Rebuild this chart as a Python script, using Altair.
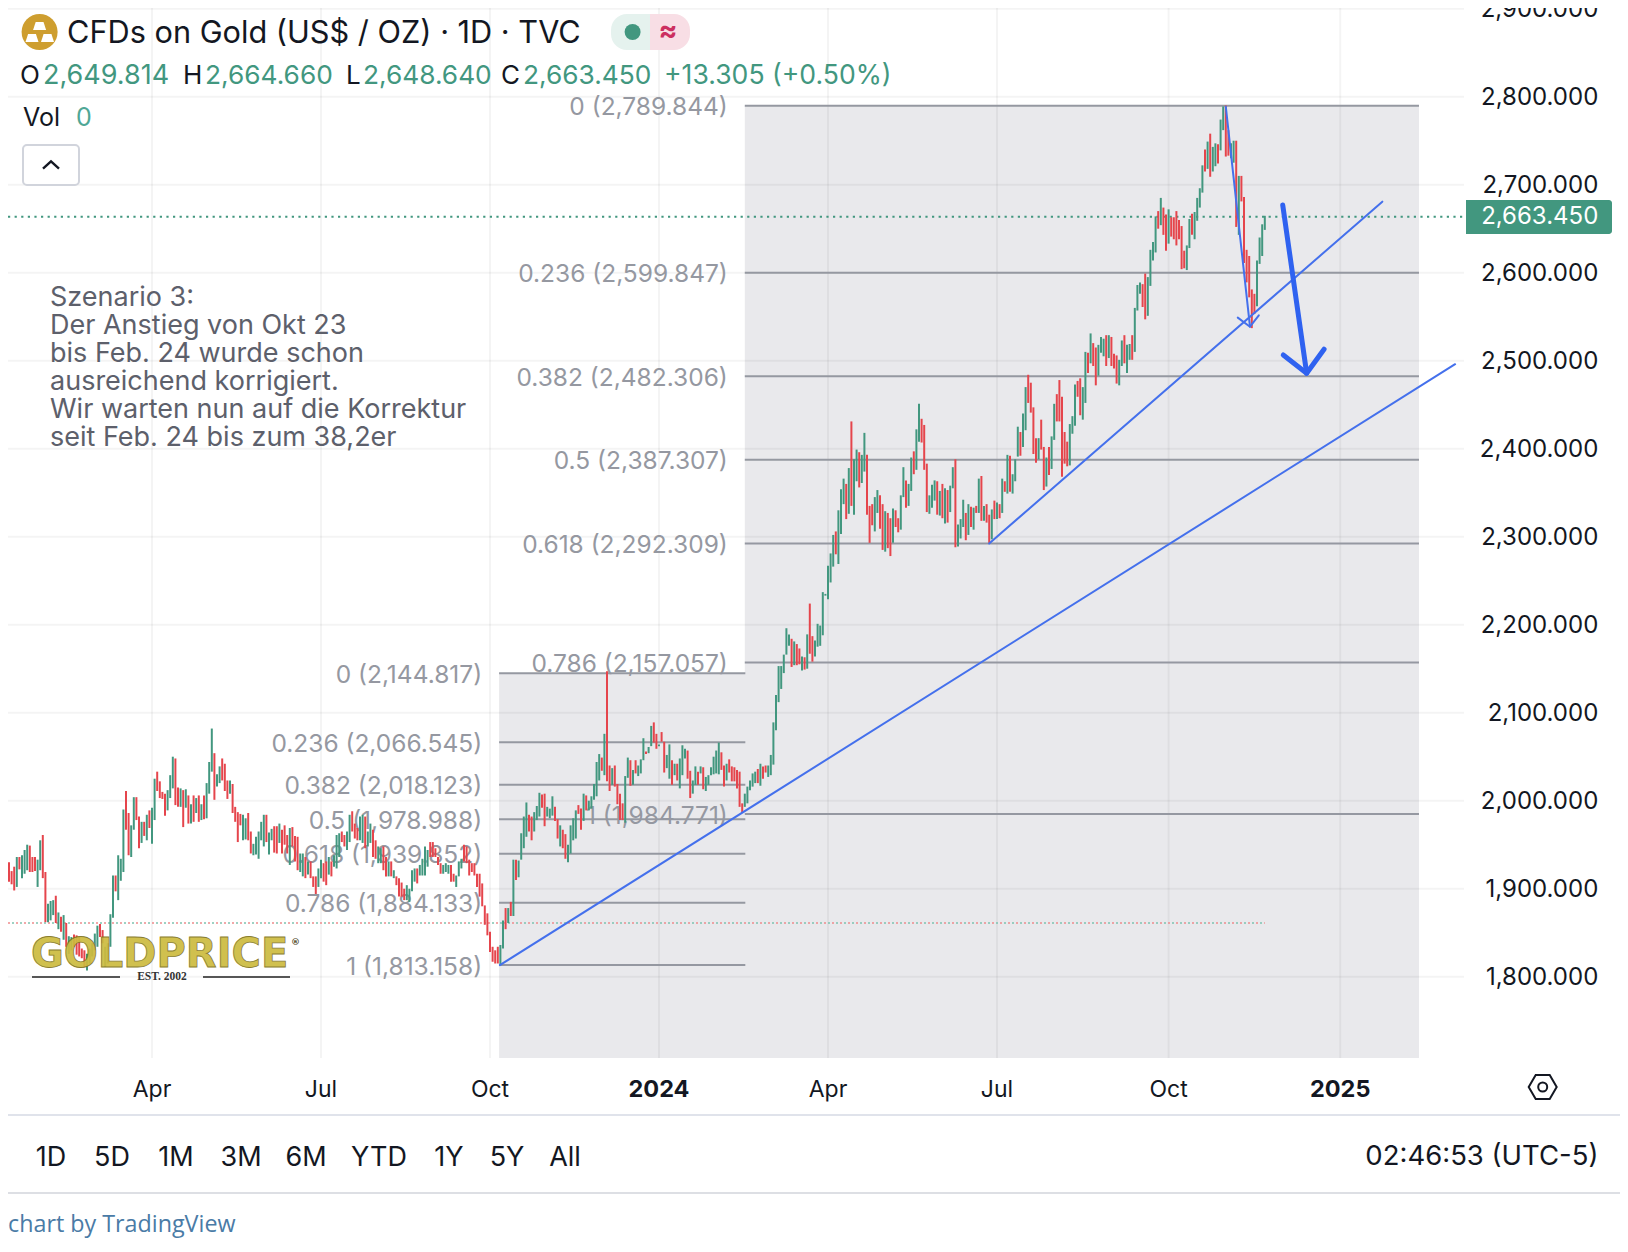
import altair as alt
import pandas as pd

W, H = 1612, 1230
PX_PER_BAR = 2.6
X_DOMAIN = [-144 / PX_PER_BAR, (W - 144) / PX_PER_BAR]
Y_DOMAIN = [2800 - (H - 88.7) / 0.88, 2800 + 88.7 / 0.88]
CHART_BOTTOM = 1707.6

# Daily bars. The first is at index -55, April 2023 is index 0.
HIGH_A = [1930,1920,1925,1936,1936,1938,1944,1950,1949,1936,1936,1933,1955,1961,1919,1883,1886,1887,1892,1873,
          1868,1870,1861,1846,1845,1848,1847,1845,1832,1830,1826,1832,1838,1849,1858,1860,1853,1834,1838,1871,
          1915,1915,1938,1934,1990,2011,1986,1972,2004,2004,1982,1976,1976,1984,1989,1992]
LOW_A = [1908,1905,1898,1902,1922,1912,1917,1921,1919,1919,1920,1902,1921,1912,1862,1862,1864,1870,1861,1854,
         1851,1842,1834,1826,1830,1834,1825,1823,1821,1811,1807,1815,1823,1830,1834,1845,1838,1811,1815,1834,
         1867,1897,1887,1909,1919,1967,1938,1936,1967,1978,1946,1952,1960,1955,1969,1951]
DIR_A = "rrrgrgggrr" "rggrrgggrg" "rgrggrrrrr" "gggggrrggg" "grgggrrggr" "rgrgrg"

HIGH_B = [2025,2033,2022,2010,2008,2012,2029,2050,2048,2015,2014,2012,2013,2006,1996,2006,2003,2006,1996,2006,
          2020,2044,2082,2054,2030,2039,2048,2042,2023,2023,2019,1993,1987,1985,1984,1980,1986,1965,1951,1959,
          1965,1976,1984,1984,1964,1968,1971,1971,1974,1967,1972,1961,1969,1970,1960,1959,1940,1940,1936]
LOW_B = [1978,2011,2003,2002,1983,1989,2003,2014,1995,1993,1993,1970,1992,1974,1974,1976,1986,1976,1978,1979,
         1980,2008,2033,2001,2016,2020,2023,2011,2002,2008,1986,1976,1953,1972,1955,1956,1955,1940,1938,1939,
         1934,1955,1948,1953,1939,1955,1941,1940,1952,1940,1950,1940,1927,1948,1931,1921,1919,1914,1912]
DIR_B = "grrrrgggrr" "grgrgrgrgr" "gggrggrrrg" "rrrrggrrgg" "gggrggrrgr" "rrgrrrggr"

HIGH_C = [1931,1931,1914,1914,1923,1933,1929,1931,1936,1931,1938,1961,1963,1965,1961,1965,1984,1988,1974,1969,
          1982,1984,1982,1965,1974,1967,1955,1948,1946,1948,1936,1931,1931,1921,1914,1912,1907,1900,1904,1900,
          1921,1923,1923,1927,1934,1948,1944,1953,1953,1946,1936,1929,1927,1929,1927,1927,1917,1915,1931,1934,
          1950,1948,1933,1929,1929,1917,1917,1906,1881,1872,1851,1834,1830,1834,1836]
LOW_C = [1916,1912,1902,1894,1902,1912,1908,1904,1916,1914,1925,1923,1936,1953,1948,1944,1953,1965,1957,1955,
         1955,1952,1946,1948,1952,1936,1934,1929,1929,1921,1914,1914,1914,1912,1904,1891,1891,1887,1887,1885,
         1897,1908,1906,1915,1915,1915,1925,1936,1936,1936,1927,1917,1917,1919,1917,1908,1908,1902,1914,1923,
         1931,1929,1915,1919,1915,1902,1891,1880,1859,1847,1828,1817,1815,1815,1813]
DIR_C = "grrrggrrgr" "gggrrggrrr" "ggrggrrggr" "rgrgrrrrgg" "ggrggggrrr" "rrgggrrggg" "rrrrrrrrrr" "rrrrg"

HIGH_D = [1864,1878,1878,1885,1933,1933,1932,1963,1982,1998,1984,1982,1987,1994,2009,2007,2008,1993,1991,2005,
          1993,1979,1972,1967,1962,1950,1972,1980,1989,1995,1991,2008,2006,2000,2005,2019,2044,2053,2049,2076,
          2147,2040,2037,2040,2019,2008,1997,2028,2049,2046,2035,2046,2040,2047,2071,2056,2061,2085,2089,2076,
          2064,2078,2067,2052,2064,2046,2042,2042,2048,2063,2059,2057,2034,2023,2039,2033,2039,2038,2027,2029,
          2038,2050,2057,2066,2055,2040,2042,2047,2039,2038,2035,2033,1997,2008,2016,2023,2031,2033,2036,2042,
          2039,2040,2040,2052,2089,2120,2153,2153,2166]
LOW_D = [1832,1854,1861,1869,1869,1910,1913,1933,1946,1959,1965,1955,1965,1978,1982,1992,1971,1982,1980,1983,
         1977,1957,1948,1946,1934,1930,1940,1955,1957,1985,1967,1977,1989,1989,1991,2001,2005,2023,2034,2029,
         2022,2011,2018,2016,1996,1978,1978,1975,2026,2017,2018,2031,2028,2031,2046,2053,2054,2062,2066,2059,
         2062,2067,2032,2037,2025,2018,2029,2023,2014,2029,2048,2025,2003,2008,2018,2018,2031,2013,2011,2018,
         2029,2030,2031,2030,2035,2016,2023,2032,2022,2022,2014,1993,1986,1993,1997,2012,2016,2020,2020,2017,
         2025,2032,2027,2029,2041,2080,2112,2127,2145]
DIR_D = "grgrg" "rgggg" "rrggg" "rrggg" "rrgrr" "ggggr" "rgrgg" "gggrg" "rrgrr" "rrggr" "grggg" "rggrr" \
        "grrgg" "rgrgg" "grrgg" "rgrgg" "ggggr" "rgrrr" "rrrgg" "gggrg" "rrggg" "gggg"

HIGH_E = [2196,2189,2184,2181,2178,2173,2164,2163,2189,2224,2187,2182,2201,2199,2237,2235,2267,2281,2302,2306,
          2330,2354,2366,2360,2378,2431,2388,2399,2396,2393,2418,2393,2335,2337,2345,2353,2347,2337,2329,2327,
          2321,2332,2330,2321,2347,2379,2364,2360,2390,2397,2422,2451,2434,2427,2383,2347,2359,2364,2363,2352,
          2360,2355,2353,2358,2379,2388,2314,2320,2342,2327,2337,2334,2333,2335,2366,2369,2335,2337,2325,2331,
          2341,2339,2337,2366,2363,2393,2392,2371,2388,2425]
LOW_E = [2166,2176,2152,2154,2154,2155,2148,2149,2150,2167,2158,2164,2175,2176,2188,2233,2229,2248,2266,2280,
         2269,2303,2337,2320,2326,2335,2325,2363,2356,2361,2374,2325,2293,2313,2306,2327,2309,2285,2283,2287,
         2278,2293,2311,2305,2308,2345,2333,2335,2352,2371,2376,2408,2407,2376,2328,2326,2333,2341,2325,2324,
         2321,2315,2316,2328,2355,2288,2289,2298,2311,2296,2302,2311,2308,2327,2327,2318,2318,2316,2293,2297,
         2320,2320,2321,2327,2351,2349,2351,2349,2363,2391]
DIR_E = "ggrgrrgrgr" "rggggggggr" "gggrgrggrg" "grrrggrrgr" "rgrrggrggr" "ggrrrgggrg" "rgrggrgggr" \
        "grgrgrgrrg" "rgrgrgrggg"

HIGH_F = [2419,2440,2470,2484,2475,2447,2412,2412,2433,2402,2390,2402,2414,2451,2462,2478,2459,2419,2408,2428,
          2437,2473,2477,2480,2470,2510,2509,2531,2520,2515,2518,2527,2525,2529,2529,2527,2508,2506,2501,2523,
          2529,2518,2519,2529,2560,2586,2589,2587,2599,2595,2626,2635,2664,2670,2685,2674,2666,2672,2663,2663,
          2670,2660,2653,2625,2631,2661,2667,2669,2685,2696,2722,2740,2749,2758,2743,2747,2746,2774,2789,2790,
          2762,2747,2750,2750,2710,2710,2686,2626,2619,2581,2576,2614,2640,2655,2664.66]
LOW_F = [2392,2402,2421,2452,2441,2394,2384,2388,2399,2353,2357,2370,2377,2410,2431,2431,2368,2383,2380,2381,
         2417,2426,2459,2438,2433,2452,2486,2497,2494,2472,2483,2509,2505,2494,2503,2494,2491,2474,2472,2494,
         2497,2486,2501,2501,2510,2557,2576,2561,2547,2551,2585,2614,2623,2650,2654,2643,2625,2633,2641,2638,
         2631,2638,2604,2605,2603,2628,2643,2638,2659,2674,2691,2715,2718,2709,2715,2721,2724,2739,2762,2732,
         2733,2730,2725,2652,2643,2681,2611,2589,2572,2537,2553,2562,2610,2619,2648.64]
DIR_F = "rggrrrrgrr" "grggrrrrrg" "ggrrggrgrr" "gggrgrrrgg" "rggrgggrrg" "gggrgrrgrr" "rrrrggrggg" \
        "grgrggrggr" "rggrgrrrrr" "rgggg"

HIGHS = HIGH_A + HIGH_B + HIGH_C + HIGH_D + HIGH_E + HIGH_F
LOWS = LOW_A + LOW_B + LOW_C + LOW_D + LOW_E + LOW_F
DIRS = DIR_A + DIR_B + DIR_C + DIR_D + DIR_E + DIR_F
bars = pd.DataFrame({"i": range(-55, -55 + len(HIGHS)), "high": HIGHS, "low": LOWS, "dir": list(DIRS)})

PRICE_TICKS = [1800, 1900, 2000, 2100, 2200, 2300, 2400, 2500, 2600, 2700, 2800, 2900]
TIME_TICKS = [0, 65, 130, 195, 260, 325, 391, 457]
TIME_LABELS = ["Apr", "Jul", "Oct", "2024", "Apr", "Jul", "Oct", "2025"]
TIME_BOLD = [False, False, False, True, False, False, False, True]

FIB_RATIOS = ["0", "0.236", "0.382", "0.5", "0.618", "0.786", "1"]
FIB_A_PRICES = [2144.817, 2066.545, 2018.123, 1978.988, 1939.852, 1884.133, 1813.158]
FIB_B_PRICES = [2789.844, 2599.847, 2482.306, 2387.307, 2292.309, 2157.057, 1984.771]
FIB_A_SPAN = [133.5, 228.2]
FIB_B_SPAN = [228.0, 487.3]

LAST_PRICE = 2663.45
LOW_MARKER = 1861.1
LOW_MARKER_END = 428.0

TREND_A = ([133.8, 501.2], [1813.2, 2496.0])
TREND_B = ([322.0, 473.2], [2292.3, 2680.7])
THIN_SHAFT = ([413.0, 422.3], [2788.6, 2538.6])
THIN_HEAD = ([417.6, 422.3, 425.7], [2548.9, 2538.6, 2551.6])
THICK_SHAFT = ([434.9, 444.1], [2676.9, 2485.7])
THICK_HEAD = ([435.1, 444.1, 450.8], [2506.5, 2485.7, 2513.0])

NOTE_LINES = ["Szenario 3:", "Der Anstieg von Okt 23", "bis Feb. 24 wurde schon", "ausreichend korrigiert.",
              "Wir warten nun auf die Korrektur", "seit Feb. 24 bis zum 38,2er"]
RANGE_LABELS = ["1D", "5D", "1M", "3M", "6M", "YTD", "1Y", "5Y", "All"]
RANGE_X = [51, 112, 176, 241, 306, 379, 449, 507, 565]

INK = "#131722"
GREEN = "#42977F"
RED = "#E5454C"
FIB = "#9598A1"
BLUE = "#4470EC"
BOX = "#E9E9EC"
RULE = "#E0E3EB"

sx = alt.Scale(domain=X_DOMAIN, nice=False, zero=False)
sy = alt.Scale(domain=Y_DOMAIN, nice=False, zero=False)
X = lambda f: alt.X(f, type="quantitative", scale=sx, axis=None)
Y = lambda f: alt.Y(f, type="quantitative", scale=sy, axis=None)
ONE = pd.DataFrame({"k": [0]})


def page_x(v):
    return alt.value(v - 8)


def page_y(v):
    return alt.value(v - 8)


def label(text, x, y, size, color=INK, align="left", weight=400, font="Inter", **kw):
    return alt.Chart(ONE).mark_text(align=align, baseline="middle", dy=2, fontSize=size, font=font,
                                    fontWeight=weight, color=color, **kw).encode(
        x=page_x(x), y=page_y(y), text=alt.value(text))


def box(x0, x1, y0, y1, **kw):
    return alt.Chart(ONE).mark_rect(**kw).encode(x=page_x(x0), x2=page_x(x1), y=page_y(y0), y2=page_y(y1))


def hline(x0, x1, y, color=RULE, width=2):
    return alt.Chart(ONE).mark_rule(color=color, strokeWidth=width).encode(x=page_x(x0), x2=page_x(x1), y=page_y(y))


def glyph(x, y, path, size, **kw):
    return alt.Chart(ONE).mark_point(shape=path, size=size, **kw).encode(x=page_x(x), y=page_y(y))


def poly(series, color, width):
    df = pd.DataFrame({"i": series[0], "p": series[1], "k": range(len(series[0]))})
    return alt.Chart(df).mark_line(color=color, strokeWidth=width, strokeCap="round", strokeJoin="round").encode(
        x=X("i"), y=Y("p"), order=alt.Order("k:Q"))


def fib_table(prices, span):
    return pd.DataFrame({
        "p": prices, "a": span[0], "b": span[1], "bottom": CHART_BOTTOM,
        "t": [f"{r} ({p:,.3f})" for r, p in zip(FIB_RATIOS, prices)],
    })


fib_a, fib_b = fib_table(FIB_A_PRICES, FIB_A_SPAN), fib_table(FIB_B_PRICES, FIB_B_SPAN)


def fib_box(df):
    return alt.Chart(df.iloc[[0]]).mark_rect(color=BOX).encode(x=X("a"), x2="b", y=Y("p"), y2="bottom")


def fib_lines(df):
    return alt.Chart(df).mark_rule(color=FIB, strokeWidth=2).encode(x=X("a"), x2="b", y=Y("p"))


def fib_labels(df):
    return alt.Chart(df).mark_text(align="right", baseline="middle", dx=-17, dy=2.4, fontSize=24.5, font="Inter",
                                   color=FIB).encode(x=X("a"), y=Y("p"), text="t:N")


grid_h = alt.Chart(pd.DataFrame({"p": PRICE_TICKS})).mark_rule(color="#000000", opacity=0.045, strokeWidth=2).encode(
    y=Y("p"), x=alt.value(0), x2=alt.value(1456))
grid_v = alt.Chart(pd.DataFrame({"i": TIME_TICKS})).mark_rule(color="#000000", opacity=0.045, strokeWidth=2).encode(
    x=X("i"), y=alt.value(0), y2=alt.value(1050))

bar_layer = alt.Chart(bars).mark_rule(strokeWidth=2).encode(
    x=X("i"), y=Y("high"), y2="low:Q",
    color=alt.Color("dir:N", scale=alt.Scale(domain=["g", "r"], range=[GREEN, RED]), legend=None),
)

price_axis = alt.Chart(pd.DataFrame({"p": PRICE_TICKS, "t": [f"{p:,.3f}" for p in PRICE_TICKS]})).mark_text(
    align="right", baseline="middle", dy=0.8, fontSize=24, font="Inter", color=INK
).encode(x=page_x(1598.3), y=Y("p"), text="t:N")

time_table = pd.DataFrame({"i": TIME_TICKS, "t": TIME_LABELS, "b": TIME_BOLD})
time_axis = alt.Chart(time_table[~time_table.b]).mark_text(
    align="center", baseline="middle", fontSize=23, font="Inter", color=INK
).encode(x=X("i"), y=page_y(1090), text="t:N")
time_axis_bold = alt.Chart(time_table[time_table.b]).mark_text(
    align="center", baseline="middle", fontSize=23.5, font="Inter", fontWeight=700, color=INK
).encode(x=X("i"), y=page_y(1090), text="t:N")

layers = [
    fib_box(fib_a), fib_box(fib_b), grid_h, grid_v,
    alt.Chart(pd.DataFrame({"p": [LOW_MARKER], "a": [X_DOMAIN[0]], "b": [LOW_MARKER_END]})).mark_rule(
        color="#EF8A8C", strokeWidth=1.5, strokeDash=[2, 6]).encode(x=X("a"), x2="b", y=Y("p")),
    alt.Chart(pd.DataFrame({"p": [LOW_MARKER], "a": [X_DOMAIN[0]], "b": [LOW_MARKER_END]})).mark_rule(
        color="#7CC4B1", strokeWidth=1.5, strokeDash=[2, 6], strokeDashOffset=4).encode(x=X("a"), x2="b", y=Y("p")),
    fib_lines(fib_a), fib_lines(fib_b), fib_labels(fib_a), fib_labels(fib_b),
    alt.Chart(pd.DataFrame({"p": [LAST_PRICE], "a": [X_DOMAIN[0]], "b": [505.4]})).mark_rule(
        color=GREEN, strokeWidth=2, strokeDash=[2.2, 4.4]).encode(x=X("a"), x2="b", y=Y("p")),
    bar_layer,
    poly(TREND_A, BLUE, 2), poly(TREND_B, BLUE, 2), poly(THIN_SHAFT, BLUE, 2), poly(THIN_HEAD, BLUE, 2),
    poly(THICK_SHAFT, "#2F62F0", 5), poly(THICK_HEAD, "#2F62F0", 5),
    price_axis, time_axis, time_axis_bold,
    # price tag
    box(1466, 1612, 200, 234, color=GREEN, cornerRadiusTopRight=3, cornerRadiusBottomRight=3),
    label(f"{LAST_PRICE:,.3f}", 1598.3, 215, 24, color="#FFFFFF", align="right"),
    # symbol header
    glyph(39.6, 32, "circle", 1296, filled=True, color="#CE9E2F", opacity=1),
    glyph(39.6, 26, "M-1,.6L-.6,-.6L.6,-.6L1,.6Z", 170, filled=True, color="#FFFFFF", opacity=1),
    glyph(32, 38, "M-1,.6L-.6,-.6L.6,-.6L1,.6Z", 170, filled=True, color="#FFFFFF", opacity=1),
    glyph(47.5, 38, "M-1,.6L-.6,-.6L.6,-.6L1,.6Z", 170, filled=True, color="#FFFFFF", opacity=1),
    label("CFDs on Gold (US$ / OZ) · 1D · TVC", 67, 32, 30.7),
    box(611, 650, 14, 50, color="#E5F2EE", cornerRadiusTopLeft=16, cornerRadiusBottomLeft=16),
    box(650, 690, 14, 50, color="#F8DEE5", cornerRadiusTopRight=16, cornerRadiusBottomRight=16),
    glyph(632.6, 32, "circle", 256, filled=True, color=GREEN, opacity=1),
    label("≈", 668, 30, 28, color="#CC2F60", align="center", weight=700),
    label("O", 20, 74, 26), label("2,649.814", 43, 74, 27, color=GREEN),
    label("H", 183, 74, 26), label("2,664.660", 205, 74, 26.3, color=GREEN),
    label("L", 346, 74, 26), label("2,648.640", 363, 74, 26.3, color=GREEN),
    label("C", 501, 74, 26), label("2,663.450", 523, 74, 26.3, color=GREEN),
    label("+13.305 (+0.50%)", 664, 74, 26.6, color=GREEN),
    label("Vol", 23, 116, 25), label("0", 76, 116, 25, color="#4FA796"),
    box(23, 79, 145, 185, fill="#FFFFFF", stroke="#D1D4DC", strokeWidth=2, cornerRadius=4),
    glyph(51, 165, "M-1,.45L0,-.45L1,.45", 256, filled=False, color=INK, strokeWidth=2.4, opacity=1),
    # logo
    label("GOLDPRICE", 31, 953, 40, color="#CDBB3F", weight=700, font="DejaVu Sans", stroke="#7F7320",
          strokeWidth=0.8, opacity=0.92),
    label("®", 291, 940, 9, color="#4A4420", align="left", weight=700, font="DejaVu Sans"),
    hline(32, 120, 977, color="#222222", width=1.5), hline(203, 290, 977, color="#222222", width=1.5),
    label("EST. 2002", 162, 975, 11.5, color="#333333", align="center", weight=700, font="Liberation Serif"),
    # frame
    hline(8, 1620, 1115), hline(8, 1620, 1193, color="#DDDFE4"),
    glyph(1542.7, 1087, "M-1,0L-.5,-.86L.5,-.86L1,0L.5,.86L-.5,.86Z", 784, filled=False, color=INK, strokeWidth=2, opacity=1),
    glyph(1542.7, 1087, "circle", 81, filled=False, color=INK, strokeWidth=2, opacity=1),
    label("02:46:53 (UTC-5)", 1598.5, 1155, 27.5, align="right"),
    label("chart by TradingView", 8, 1223, 23.3, color="#4A7BA6", font="Open Sans"),
]
for k, line in enumerate(NOTE_LINES):
    layers.append(label(line, 50, 295.5 + 28 * k, 27, color="#5D606B"))
for name, px in zip(RANGE_LABELS, RANGE_X):
    layers.append(label(name, px, 1155.5, 27, align="center"))

chart = alt.layer(*layers).properties(
    width=W, height=H, padding=0, autosize=alt.AutoSizeParams(type="none"), background="#FFFFFF"
).configure_view(stroke=None)

chart.save("out.html", embed_options={"renderer": "svg", "actions": False})
